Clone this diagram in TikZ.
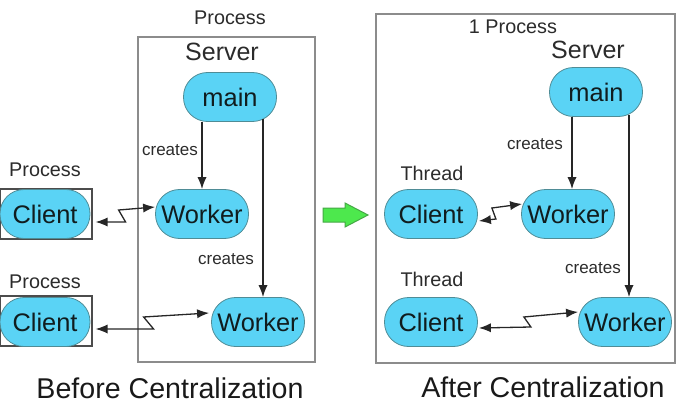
\documentclass[tikz,border=0pt]{standalone}
\usepackage{fontspec}
\setmainfont{Liberation Sans}
\usetikzlibrary{arrows.meta,positioning,calc}
\definecolor{PillBlue}{HTML}{5AD3F5}
\definecolor{PillEdge}{HTML}{4F8C96}
\definecolor{BoxGrey}{HTML}{8C8C8C}
\definecolor{InkGrey}{HTML}{2B2B2B}
\definecolor{GoGreen}{HTML}{4DE84D}
\definecolor{GoEdge}{HTML}{45A845}

\begin{document}
\begin{tikzpicture}[x=0.5pt,y=-0.5pt, every node/.style={text=InkGrey},
  pill/.style={draw=PillEdge, fill=PillBlue, rounded corners=12pt, minimum width=46.5pt, minimum height=24.5pt, inner sep=0pt, font=\fontsize{12.7}{14}\selectfont, text=black!80!PillEdge},
  procbox/.style={draw=black!70, line width=0.6pt, minimum width=46pt, minimum height=25pt, inner sep=0pt},
  frame/.style={draw=BoxGrey, line width=0.7pt},
  tag/.style={font=\fontsize{9.9}{12}\selectfont},
  small/.style={font=\fontsize{8.5}{10}\selectfont},
  title/.style={font=\fontsize{12.5}{14}\selectfont},
  caption/.style={font=\fontsize{14.3}{16}\selectfont, text=black!90},
  conn/.style={draw=black!85, line width=0.65pt, -{Latex[length=6pt,width=4.6pt]}},
  zig/.style={draw=black!85, line width=0.65pt, {Latex[length=6pt,width=4.6pt]}-{Latex[length=6pt,width=4.6pt]}}]
  \useasboundingbox (0,0) rectangle (680,417);

  % before
  \draw[frame] (138,37) rectangle (315,362);
  \node[tag] (procS) at (230,18) {Process};
  \node[title] (srvL) at (222,52) {Server};
  \node[pill] (mainL) at (230,97) {main};
  \node[pill] (wkA) at (202,214) {Worker};
  \node[pill] (wkB) at (258,322) {Worker};
  \node[procbox] (pbA) at (46,214) {};
  \node[procbox] (pbB) at (46,321) {};
  \node[pill, minimum width=45pt] (clA) at (45,214) {Client};
  \node[pill, minimum width=45pt] (clB) at (45,322) {Client};
  \node[tag] (procA) at (45,170) {Process};
  \node[tag] (procB) at (45,282) {Process};
  \node[small] (crA) at (170,150) {creates};
  \node[small] (crB) at (226,259) {creates};
  \draw[conn] (wkA.north |- mainL.south) -- (wkA.north);
  \draw[conn] ($(wkB.north |- mainL.south)+(5,-3)$) -- ($(wkB.north)+(5,0)$);
  \draw[zig] ($(pbA.east)+(3,8)$) -- ++(30,0) -- ++(-7,-12) -- ($(wkA.west)+(0,-7)$);
  \draw[zig] ($(pbB.east)+(3,8)$) -- ++(58,0) -- ++(-10,-12) -- ($(wkB.west)+(-2,-9)$);
  \node[caption] (capL) at (170,388) {Before Centralization};

  % arrow between
  \draw[draw=GoEdge, fill=GoGreen, line width=0.5pt] (323,208) -- (345,208) -- (345,203) -- (368,215) -- (345,227) -- (345,222) -- (323,222) -- cycle;

  % after
  \draw[frame] (376,14) rectangle (675,363);
  \node[tag] (procR) at (513,27) {1 Process};
  \node[title] (srvR) at (588,50) {Server};
  \node[pill] (mainR) at (596,92) {main};
  \node[pill] (wkC) at (568,214) {Worker};
  \node[pill] (wkD) at (625,322) {Worker};
  \node[pill] (clC) at (431,214) {Client};
  \node[pill] (clD) at (431,322) {Client};
  \node[tag] (thA) at (432,173) {Thread};
  \node[tag] (thB) at (432,279) {Thread};
  \node[small] (crC) at (535,144) {creates};
  \node[small] (crD) at (593,268) {creates};
  \draw[conn] ($(wkC.north |- mainR.south)+(4,0)$) -- ($(wkC.north)+(4,0)$);
  \draw[conn] ($(wkD.north |- mainR.south)+(4,-2)$) -- ($(wkD.north)+(4,0)$);
  \draw[zig] ($(clC.east)+(1,7)$) -- ++(17,-2) -- ++(-4,-11) -- ($(wkC.west)+(1,-10)$);
  \draw[zig] ($(clD.east)+(1,6)$) -- ++(52,-1) -- ++(-7,-10) -- ($(wkD.west)+(0,-10)$);
  \node[caption] (capR) at (543,387) {After Centralization};
\end{tikzpicture}
\end{document}
